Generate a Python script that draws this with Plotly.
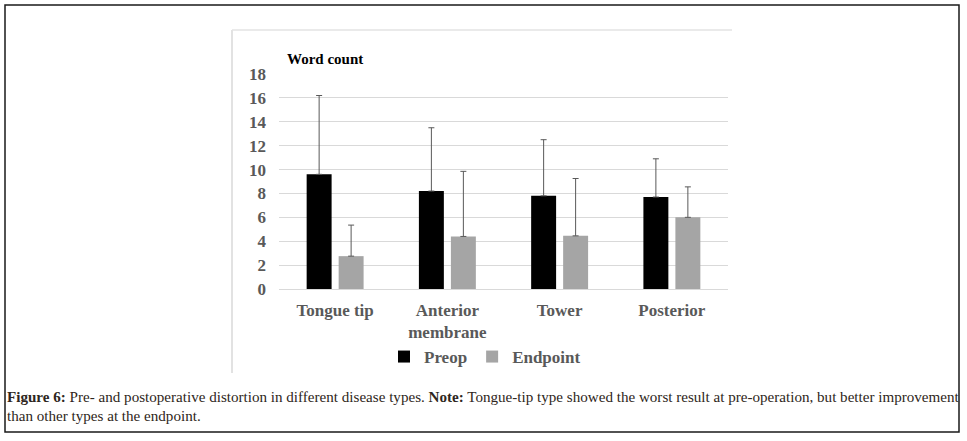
import plotly.graph_objects as go

categories = ["Tongue tip", "Anterior<br>membrane", "Tower", "Posterior"]
preop = [9.6, 8.2, 7.8, 7.7]
preop_sd = [6.6, 5.3, 4.7, 3.2]
endpoint = [2.75, 4.4, 4.45, 6.0]
endpoint_sd = [2.6, 5.45, 4.8, 2.55]
y_ticks = [0, 2, 4, 6, 8, 10, 12, 14, 16, 18]

W, H = 967, 441
L, R, T, B = 279, 239, 74, 152
PW, PH = W - L - R, H - T - B


def px(x):
    return (x - L) / PW


def py(y):
    return (H - B - y) / PH


SERIF = "Liberation Serif, Times New Roman, serif"
GRAY_TXT = "#595959"

fig = go.Figure()
fig.add_trace(go.Bar(
    x=categories, y=preop, name="Preop",
    marker=dict(color="#000000", line=dict(width=0)),
    error_y=dict(type="data", symmetric=False, array=preop_sd,
                 arrayminus=[0] * len(preop_sd),
                 color=GRAY_TXT, thickness=1, width=3),
))
fig.add_trace(go.Bar(
    x=categories, y=endpoint, name="Endpoint",
    marker=dict(color="#a5a5a5", line=dict(width=0)),
    error_y=dict(type="data", symmetric=False, array=endpoint_sd,
                 arrayminus=[0] * len(endpoint_sd),
                 color=GRAY_TXT, thickness=1, width=3),
))

fig.update_layout(
    width=W, height=H,
    margin=dict(l=L, r=R, t=T, b=B, autoexpand=False),
    paper_bgcolor="white", plot_bgcolor="white",
    barmode="group", bargap=0.43, bargroupgap=0.22,
    font=dict(family=SERIF, color=GRAY_TXT, size=17),
    showlegend=True,
    legend=dict(orientation="h", x=px(485), xanchor="center",
                y=py(357), yanchor="middle", itemwidth=30,
                font=dict(family=SERIF, size=17, color=GRAY_TXT, weight="bold"),
                bgcolor="rgba(0,0,0,0)", itemclick=False),
    xaxis=dict(showgrid=False, showline=False, ticks="", ticklabelstandoff=9,
               tickfont=dict(family=SERIF, size=17, color=GRAY_TXT, weight="bold")),
    yaxis=dict(range=[0, 18], tickvals=y_ticks, showgrid=True,
               gridcolor="#d9d9d9", gridwidth=1, zeroline=True,
               zerolinecolor="#d9d9d9", zerolinewidth=1, showline=False,
               ticks="", ticklabelstandoff=12,
               tickfont=dict(family=SERIF, size=17, color=GRAY_TXT, weight="bold")),
)

fig.add_annotation(text="<b>Word count</b>", xref="paper", yref="paper",
                   x=px(285), y=py(59), xanchor="left", yanchor="middle",
                   showarrow=False,
                   font=dict(family=SERIF, size=15, color="#000000"))

caption1 = ("<b>Figure 6:</b> Pre- and postoperative distortion in different disease types. "
            "<b>Note:</b> Tongue-tip type showed the worst result at pre-operation, "
            "but better improvement")
caption2 = "than other types at the endpoint."
fig.add_annotation(text=caption1, xref="paper", yref="paper",
                   x=px(5), y=py(397), xanchor="left", yanchor="middle",
                   showarrow=False,
                   font=dict(family=SERIF, size=15.1, color="#2e2620"))
fig.add_annotation(text=caption2, xref="paper", yref="paper",
                   x=px(5), y=py(416), xanchor="left", yanchor="middle",
                   showarrow=False,
                   font=dict(family=SERIF, size=15.1, color="#2e2620"))

# outer figure border
fig.add_shape(type="rect", xref="paper", yref="paper",
              x0=px(5), x1=px(959), y0=py(5), y1=py(432),
              line=dict(color="#1a1a1a", width=1.5), layer="above")
# chart image frame (left and top edges)
fig.add_shape(type="line", xref="paper", yref="paper",
              x0=px(232), x1=px(232), y0=py(30), y1=py(373),
              line=dict(color="#d9d9d9", width=1.5))
fig.add_shape(type="line", xref="paper", yref="paper",
              x0=px(232), x1=px(732), y0=py(30), y1=py(30),
              line=dict(color="#e3e3e3", width=1.5))

fig.write_html("out.html",
               config={"displayModeBar": False},
               post_script="document.body.style.margin='0';"
                           "document.body.style.padding='0';")
